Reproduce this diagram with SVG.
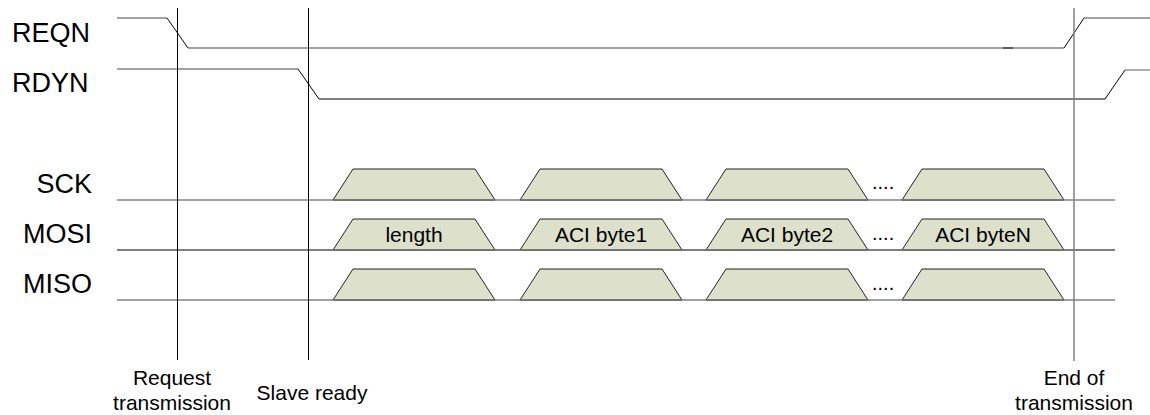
<svg xmlns="http://www.w3.org/2000/svg" width="1150" height="415" viewBox="0 0 1150 415">
<style>
text{font-family:"Liberation Sans",Arial,sans-serif;fill:#000}
.big{font-size:27px}
.sml{font-size:21px}
.dots{font-size:20px}
.g{fill:none;stroke:#808080;stroke-width:1.3}
.k{fill:none;stroke:#000;stroke-width:1}
.tr{fill:#dde0cb;stroke:#222;stroke-width:1;stroke-linejoin:miter}
.trb{stroke:#777;stroke-width:1.5}
.mk{stroke:#000;stroke-width:1}
.mkg{stroke:#808080;stroke-width:1.5}
</style>
<defs>
<g id="trap">
<path class="tr" d="M0,0 L20,-31 L142,-31 L162,0 Z"/>
<line class="trb" x1="0" y1="0" x2="162" y2="0"/>
</g>
</defs>
<rect width="1150" height="415" fill="#fff"/>

<g id="REQN">
<text class="big" x="12" y="42">REQN</text>
<polyline class="g" points="117,18 167,18"/>
<polyline class="k" points="167,18 188,48"/>
<polyline class="g" points="188,48 1064,48"/>
<line x1="1003" y1="48" x2="1013" y2="48" stroke="#444" stroke-width="1.5"/>
<polyline class="k" points="1064,48 1084,18"/>
<polyline class="g" points="1084,18 1150,18"/>
</g>

<g id="RDYN">
<text class="big" x="12" y="92">RDYN</text>
<polyline class="g" points="117,69 298,69"/>
<polyline class="k" points="298,69 319,99 1105,99 1125,70"/>
<polyline class="g" points="1125,70 1150,70"/>
</g>

<g id="SCK">
<text class="big" x="92" y="193" text-anchor="end">SCK</text>
<line class="g" x1="117" y1="200" x2="1115" y2="200"/>
<use href="#trap" x="333" y="200"/>
<use href="#trap" x="520" y="200"/>
<use href="#trap" x="706" y="200"/>
<use href="#trap" x="902" y="200"/>
<text class="dots" x="872" y="189">....</text>
</g>

<g id="MOSI">
<text class="big" x="92" y="243" text-anchor="end">MOSI</text>
<line class="k" x1="117" y1="250" x2="1115" y2="250"/>
<use href="#trap" x="333" y="250"/>
<use href="#trap" x="520" y="250"/>
<use href="#trap" x="706" y="250"/>
<use href="#trap" x="902" y="250"/>
<text class="sml" x="414" y="242" text-anchor="middle">length</text>
<text class="sml" x="601" y="242" text-anchor="middle">ACI byte1</text>
<text class="sml" x="787" y="242" text-anchor="middle">ACI byte2</text>
<text class="sml" x="983" y="242" text-anchor="middle">ACI byteN</text>
<text class="dots" x="872" y="240">....</text>
</g>

<g id="MISO">
<text class="big" x="92" y="293" text-anchor="end">MISO</text>
<line class="g" x1="117" y1="300" x2="1115" y2="300"/>
<use href="#trap" x="333" y="300"/>
<use href="#trap" x="520" y="300"/>
<use href="#trap" x="706" y="300"/>
<use href="#trap" x="902" y="300"/>
<text class="dots" x="872" y="290">....</text>
</g>

<g id="connectors">
<line class="mk" x1="177.5" y1="8" x2="177.5" y2="360"/>
<line class="mk" x1="308.5" y1="8" x2="308.5" y2="360"/>
<line class="mkg" x1="1074" y1="8" x2="1074" y2="361"/>
</g>

<g id="request-transmission">
<text class="sml" x="172" y="385" text-anchor="middle">Request</text>
<text class="sml" x="172" y="410" text-anchor="middle">transmission</text>
</g>
<g id="slave-ready">
<text class="sml" x="312" y="400" text-anchor="middle">Slave ready</text>
</g>
<g id="end-of-transmission">
<text class="sml" x="1074" y="385" text-anchor="middle">End of</text>
<text class="sml" x="1074" y="410" text-anchor="middle">transmission</text>
</g>
</svg>
